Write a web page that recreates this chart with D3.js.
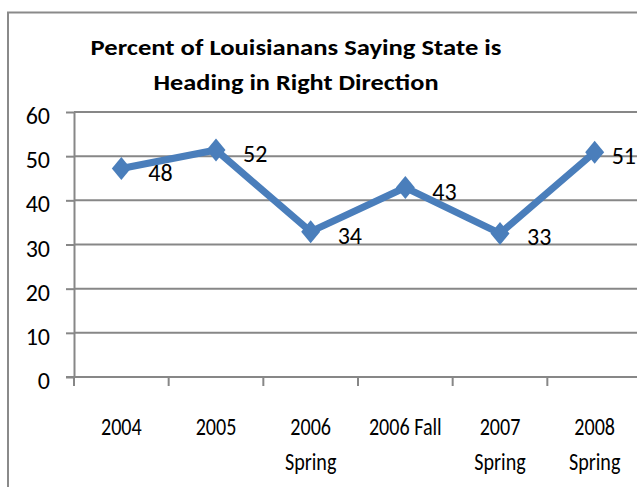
<!DOCTYPE html>
<html>
<head>
<meta charset="utf-8">
<script src="https://cdn.jsdelivr.net/npm/d3@7"></script>
<style>
  html, body { margin: 0; padding: 0; background: #ffffff; }
  svg { display: block; }
</style>
</head>
<body>
<svg id="chart" width="637" height="487"></svg>
<script>
// ---- data ----
const titleLines = ["Percent of Louisianans Saying State is", "Heading in Right Direction"];
const categories = ["2004", "2005", "2006 Spring", "2006 Fall", "2007 Spring", "2008 Spring"];
const categoryLines = [["2004"], ["2005"], ["2006", "Spring"], ["2006 Fall"], ["2007", "Spring"], ["2008", "Spring"]];
const values = [47.2, 51.4, 32.9, 42.9, 32.5, 50.9];
const valueLabels = ["48", "52", "34", "43", "33", "51"];
const yTicks = [0, 10, 20, 30, 40, 50, 60];

(function () {
// ---- layout ----
const W = 637, H = 487;
const pLeft = 74, pRight = 642, pTop = 112, pBottom = 377;
const gridColor = "#878787";
const lineColor = "#4a7ebb";
const font = "Carlito, Calibri, Lato, 'Liberation Sans', sans-serif";

const svg = d3.select("#chart");
svg.append("rect").attr("width", W).attr("height", H).attr("fill", "#fff");

// outer border (extends past right/bottom)
svg.append("rect")
  .attr("x", 8).attr("y", 12.5).attr("width", 700).attr("height", 600)
  .attr("fill", "none").attr("stroke", "#8a8a8a").attr("stroke-width", 2);

const x = d3.scaleBand().domain(categories).range([pLeft, pRight]).paddingInner(0).paddingOuter(0);
const y = d3.scaleLinear().domain([0, 60]).range([pBottom, pTop]);

// title
const titleWidths = [411, 285];
const titleBaselines = [55, 90];
const titleCenter = 296;
svg.selectAll("text.title").data(titleLines).join("text")
  .attr("class", "title")
  .attr("x", titleCenter)
  .attr("y", (d, i) => titleBaselines[i])
  .attr("text-anchor", "middle")
  .attr("font-family", font)
  .attr("font-weight", "bold")
  .attr("font-size", 22.5)
  .attr("fill", "#000")
  .text(d => d)
  .attr("textLength", (d, i) => titleWidths[i])
  .attr("lengthAdjust", "spacingAndGlyphs");

// gridlines
svg.append("g").selectAll("line").data(yTicks.filter(t => t > 0)).join("line")
  .attr("x1", pLeft).attr("x2", pRight)
  .attr("y1", d => y(d)).attr("y2", d => y(d))
  .attr("stroke", gridColor).attr("stroke-width", 2);

// y axis
const yAxis = svg.append("g")
  .attr("transform", `translate(${pLeft},0)`)
  .call(d3.axisLeft(y).tickValues(yTicks).tickSize(8).tickSizeOuter(0).tickPadding(16));
yAxis.select(".domain").attr("stroke", gridColor).attr("stroke-width", 2);
yAxis.selectAll(".tick line").attr("stroke", gridColor).attr("stroke-width", 2);
yAxis.selectAll(".tick text")
  .attr("font-family", font).attr("font-size", 24).attr("fill", "#000")
  .attr("y", 3).attr("dy", "0.36em");

// x axis
const xg = svg.append("g");
xg.append("line")
  .attr("x1", pLeft - 8).attr("x2", pRight)
  .attr("y1", pBottom).attr("y2", pBottom)
  .attr("stroke", gridColor).attr("stroke-width", 2);
const boundaries = categories.map(c => x(c)).concat([x.range()[1]]);
xg.selectAll("line.tick").data(boundaries).join("line")
  .attr("class", "tick")
  .attr("x1", d => d).attr("x2", d => d)
  .attr("y1", pBottom).attr("y2", pBottom + 9)
  .attr("stroke", gridColor).attr("stroke-width", 2);

const xLabelBaselines = [435, 470];
const xLabelScale = 0.82;
categories.forEach((c, i) => {
  const cx = x(c) + x.bandwidth() / 2;
  categoryLines[i].forEach((ln, j) => {
    const t = xg.append("text")
      .attr("x", cx).attr("y", xLabelBaselines[j])
      .attr("text-anchor", "middle")
      .attr("font-family", font).attr("font-size", 24.5).attr("fill", "#000")
      .text(ln);
    const w = t.node().getComputedTextLength();
    t.attr("textLength", w * xLabelScale).attr("lengthAdjust", "spacingAndGlyphs");
  });
});

// line
const pts = categories.map((c, i) => [x(c) + x.bandwidth() / 2, y(values[i])]);
svg.append("path")
  .attr("d", d3.line()(pts))
  .attr("fill", "none").attr("stroke", lineColor)
  .attr("stroke-width", 7).attr("stroke-linejoin", "round");

// markers
svg.selectAll("path.marker").data(pts).join("path")
  .attr("class", "marker")
  .attr("transform", d => `translate(${d[0]},${d[1]})`)
  .attr("d", "M0,-11.5L9.5,0L0,11.5L-9.5,0Z")
  .attr("fill", lineColor);

// value labels
pts.forEach((p, i) => {
  const t = svg.append("text")
    .attr("y", p[1] + 12)
    .attr("font-family", font).attr("font-size", 24).attr("fill", "#000")
    .text(valueLabels[i]);
  const w = t.node().getComputedTextLength();
  t.attr("x", Math.min(p[0] + 27, 636 - w));
});
})();
</script>
</body>
</html>
